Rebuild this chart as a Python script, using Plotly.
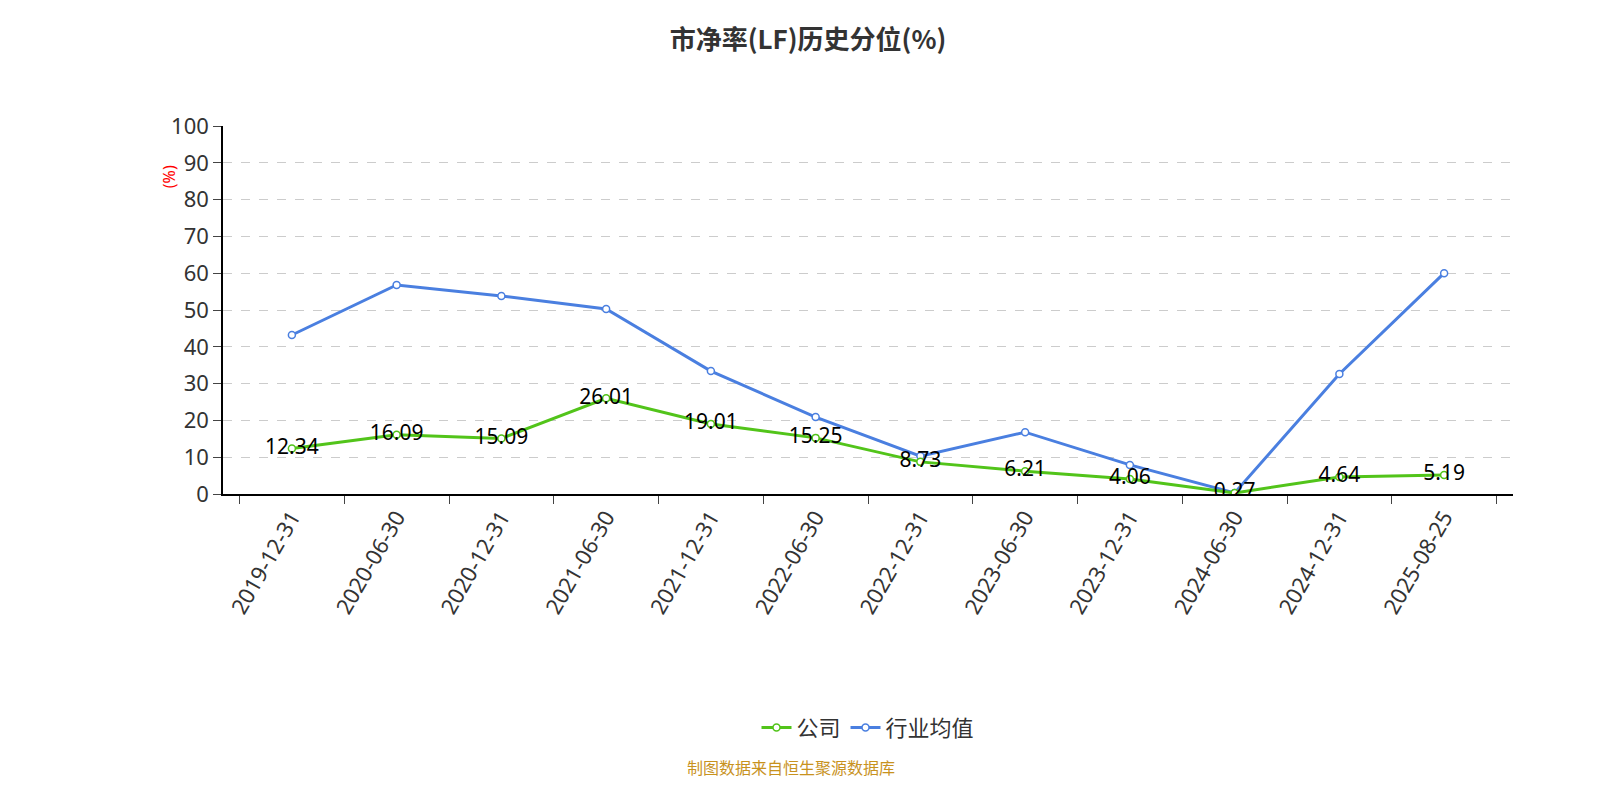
import plotly.graph_objects as go

dates = ['2019-12-31', '2020-06-30', '2020-12-31', '2021-06-30', '2021-12-31', '2022-06-30',
         '2022-12-31', '2023-06-30', '2023-12-31', '2024-06-30', '2024-12-31', '2025-08-25']
company = [12.34, 16.09, 15.09, 26.01, 19.01, 15.25, 8.73, 6.21, 4.06, 0.27, 4.64, 5.19]
industry = [43.2, 56.8, 53.8, 50.3, 33.4, 20.9, 10.3, 16.8, 7.9, 0.3, 32.6, 60.0]

font = 'Noto Sans, Noto Sans CJK SC'
fig = go.Figure()
fig.add_trace(go.Scatter(
    x=dates, y=industry, name='行业均值', mode='lines+markers',
    line=dict(color='#4a7fe0', width=3),
    marker=dict(size=7, color='white', line=dict(color='#4a7fe0', width=1.5))
))
fig.add_trace(go.Scatter(
    x=dates, y=company, name='公司', mode='lines+markers+text',
    text=[f'{v:.2f}' for v in company], textposition='middle center',
    textfont=dict(size=21, color='black', family=font),
    line=dict(color='#52c41a', width=3),
    marker=dict(size=7, color='white', line=dict(color='#52c41a', width=1.5))
))

fig.update_layout(
    width=1600, height=800,
    paper_bgcolor='white', plot_bgcolor='white',
    font=dict(family=font, size=21, color='#333'),
    title=dict(text='<b>市净率(LF)历史分位(%)</b>', x=0.5, y=0.972, xanchor='center',
               font=dict(size=26, color='#333', family='Noto Sans CJK SC')),
    margin=dict(l=215, r=95, t=118, b=314),
    showlegend=True,
    legend=dict(orientation='h', x=0.5, xanchor='center', y=-0.635, yanchor='middle',
                traceorder='reversed', font=dict(size=22, color='#333', family='Noto Sans CJK SC')),
    xaxis=dict(type='category', tickson='boundaries', ticks='outside', ticklen=8,
               tickangle=-60, showline=True, linecolor='black', linewidth=1.5,
               showgrid=False, tickfont=dict(size=22, color='#333')),
    yaxis=dict(range=[0, 100], dtick=10, ticks='outside', ticklen=8, showline=True,
               linecolor='black', linewidth=1.5, gridcolor='#ccc', griddash='dash',
               zeroline=False, tickfont=dict(size=22, color='#333')),
    annotations=[
        dict(text='(%)', xref='paper', yref='paper', x=-0.052, y=0.9, showarrow=False,
             textangle=-90, font=dict(size=16, color='red')),
        dict(text='制图数据来自恒生聚源数据库', xref='paper', yref='paper', x=0.44, y=-0.78,
             showarrow=False, font=dict(size=16, color='#c8921e', family='Noto Sans CJK SC')),
    ],
)
fig.write_html('out.html')
